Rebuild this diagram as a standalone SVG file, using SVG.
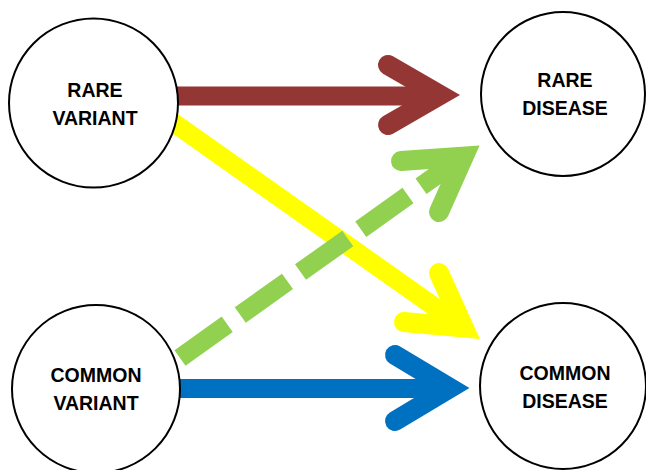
<svg xmlns="http://www.w3.org/2000/svg" width="646" height="470" viewBox="0 0 646 470">
<style>
.node circle{fill:#fff;stroke:#000;stroke-width:2}
.node text{font-family:"Liberation Sans",Arial,sans-serif;font-weight:bold;font-size:19.5px;text-anchor:middle;fill:#000}
.shaft{fill:none;stroke-width:19}
.head{fill:none;stroke-width:20;stroke-linecap:round;stroke-linejoin:miter;stroke-miterlimit:6}
</style>
<rect width="646" height="470" fill="#fff"/>
<g id="connectors">
  <g id="rare-to-rare" stroke="#943634">
    <line class="shaft" x1="150" y1="96" x2="440" y2="96"/>
    <polyline class="head" points="388,65 440,95 388,125"/>
  </g>
  <g id="rare-to-common" stroke="#FFFF00">
    <line class="shaft" x1="150" y1="106" x2="463" y2="327"/>
    <polyline class="head" points="439,273 463.7,327.4 404,322"/>
  </g>
  <g id="common-to-rare" stroke="#92D050">
    <line class="shaft" x1="180" y1="358" x2="462" y2="157" stroke-dasharray="58 16" stroke-dashoffset="0"/>
    <polyline class="head" points="401,161 463.7,156.6 439,212"/>
  </g>
  <g id="common-to-common" stroke="#0070C0">
    <line class="shaft" x1="150" y1="388.5" x2="450" y2="388.5"/>
    <polyline class="head" points="395,355 450,388 395,421"/>
  </g>
</g>
<g id="rare-variant" class="node">
  <circle cx="93.5" cy="103" r="84.5"/>
  <text x="95" y="97">RARE</text>
  <text x="95" y="125">VARIANT</text>
</g>
<g id="rare-disease" class="node">
  <circle cx="563" cy="94" r="82"/>
  <text x="565" y="87">RARE</text>
  <text x="565" y="115">DISEASE</text>
</g>
<g id="common-variant" class="node">
  <circle cx="96" cy="389" r="84"/>
  <text x="96" y="382">COMMON</text>
  <text x="96" y="410">VARIANT</text>
</g>
<g id="common-disease" class="node">
  <circle cx="563" cy="386" r="83"/>
  <text x="565" y="380">COMMON</text>
  <text x="565" y="408">DISEASE</text>
</g>
</svg>
